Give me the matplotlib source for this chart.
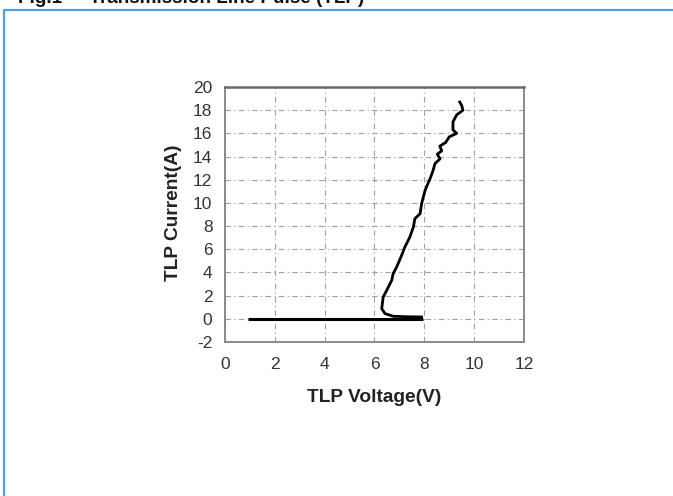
import matplotlib
matplotlib.use("Agg")
import matplotlib.pyplot as plt
from matplotlib.lines import Line2D

plt.rcParams['font.family'] = ['Liberation Sans', 'DejaVu Sans']
plt.rcParams['axes.unicode_minus'] = False

# Data
base_v = [0.92, 7.95]
base_i = [0.0, 0.0]

curve_v = [7.89, 7.3, 6.75, 6.42, 6.29, 6.32, 6.35, 6.49, 6.69, 6.75, 6.89, 7.09,
           7.22, 7.42, 7.56, 7.62, 7.83, 7.89, 8.03, 8.15, 8.25, 8.35, 8.43, 8.63,
           8.52, 8.7, 8.62, 8.85, 9.0, 9.3, 9.15, 9.15, 9.3, 9.55, 9.5, 9.42]
curve_i = [0.16, 0.18, 0.22, 0.45, 0.88, 1.4, 1.88, 2.46, 3.32, 3.9, 4.47, 5.48,
           6.2, 7.06, 7.92, 8.64, 9.07, 9.93, 11.08, 11.7, 12.2, 12.8, 13.4, 13.8,
           14.2, 14.5, 14.9, 15.2, 15.7, 16.0, 16.3, 17.0, 17.6, 18.0, 18.4, 18.7]

x_ticks = [0, 2, 4, 6, 8, 10, 12]
y_ticks = [-2, 0, 2, 4, 6, 8, 10, 12, 14, 16, 18, 20]
x_label = "TLP Voltage(V)"
y_label = "TLP Current(A)"
title = "Fig.1  -  Transmission Line Pulse (TLP)"

W, H = 673, 496
fig = plt.figure(figsize=(W / 100, H / 100), dpi=100)

# blue frame
fig.add_artist(Line2D([4 / W, 4 / W, 1.0], [0.0, 1 - 10 / H, 1 - 10 / H],
                      transform=fig.transFigure, color='#4aa3e6', lw=1.6))
# title (clipped at top, as in the reference)
fig.text(18 / W, 1 - 3 / H, title, fontsize=13.6, fontweight='bold',
         color='#111111', va='baseline', ha='left')

ax = fig.add_axes([225 / W, 1 - 342 / H, (524 - 225) / W, (342 - 87) / H])
ax.set_xlim(0, 12)
ax.set_ylim(-2, 20)
ax.set_xticks(x_ticks)
ax.set_yticks(y_ticks)
ax.tick_params(length=0, labelsize=12.5, colors='#333333')
ax.tick_params(axis='x', pad=11)
ax.tick_params(axis='y', pad=9)
for s in ax.spines.values():
    s.set_color('#8a8a8a')
    s.set_linewidth(1.4)
ax.spines['top'].set_color('#6a6a6a')
ax.spines['top'].set_linewidth(1.8)

ax.grid(True, color='#a0a0a0', linestyle=(0, (5, 3, 1, 3)), linewidth=0.8)
ax.set_axisbelow(True)

ax.plot(base_v, base_i, color='black', lw=2.2, solid_capstyle='butt')
ax.plot(curve_v, curve_i, color='black', lw=2.0, solid_joinstyle='round')

ax.set_xlabel(x_label, fontsize=13.8, fontweight='bold', color='#222222', va='center')
ax.set_ylabel(y_label, fontsize=13.8, fontweight='bold', color='#222222', va='center')
ax.xaxis.set_label_coords(0.5, (342 - 397) / 255)
ax.yaxis.set_label_coords((174 - 225) / 299, (342 - 213) / 255)

fig.savefig("out.png", dpi=100)
